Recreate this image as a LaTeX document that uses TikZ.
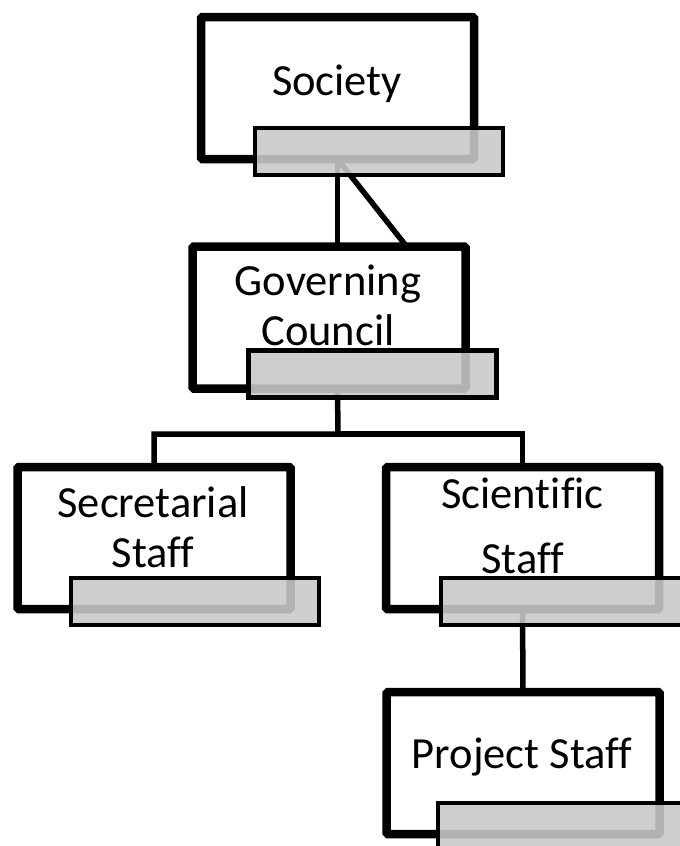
\documentclass[tikz,border=0pt]{standalone}
\usepackage{fontspec}
\setmainfont[Ligatures=NoCommon]{Carlito}
\usetikzlibrary{shadows,backgrounds}

\tikzset{
  unit/.style={draw, line width=8.5pt, fill=white, rounded corners=1.5pt,
    minimum width=273pt, minimum height=142pt, inner sep=0pt, outer sep=0pt,
    drop shadow={shadow xshift=2pt, shadow yshift=-4pt, opacity=0.3}},
  bar/.style={draw, line width=4.5pt, fill=black!21, fill opacity=0.89,
    minimum width=248pt, minimum height=47pt, inner sep=0pt, outer sep=0pt},
  lbl/.style={align=center, inner sep=0pt, font=\fontsize{44.5}{50}\selectfont},
  link/.style={line width=5.5pt}
}

\begin{document}
\begin{tikzpicture}[x=1pt,y=-1pt]
\useasboundingbox (0,0) rectangle (680,846);
\clip (0,0) rectangle (680,846);

% society
\node[unit] (soc) at (337.5,88) {};
\node[lbl] (soc-txt) at (337,84) {Society};
\node[bar] (soc-bar) at (379,151.5) {};

% governing council
\node[unit] (gc) at (329,317.5) {};
\node[lbl] (gc-txt) at (328,305.5) {Governing\\Council};
\node[bar] (gc-bar) at (372.5,374) {};

% staff
\node[unit] (sec) at (154,538) {};
\node[lbl] (sec-txt) at (153,527.5) {Secretarial\\Staff};
\node[bar] (sec-bar) at (195,601.5) {};

\node[unit] (sci) at (522.5,538) {};
\node[lbl] (sci-txt) at (522.5,526) {Scientific\\[15pt]Staff};
\node[bar] (sci-bar) at (565,601.5) {};

\node[unit] (prj) at (523,763) {};
\node[lbl] (prj-txt) at (522,757) {Project Staff};
\node[bar] (prj-bar) at (562,826.5) {};

% connectors
\coordinate (gcdiag) at (407,247);
\coordinate (fork) at (338,434);
\begin{scope}[on background layer]
\draw[link] (soc.south) -- (soc.south |- gc.north);
\draw[link] (soc.south) -- (gcdiag);
\draw[link] (gc.south -| soc.south) -- (fork) -| (sec.north);
\draw[link] (fork) -| (sci.north);
\draw[link] (sci.south) -- (prj.north);
\end{scope}
\end{tikzpicture}
\end{document}
